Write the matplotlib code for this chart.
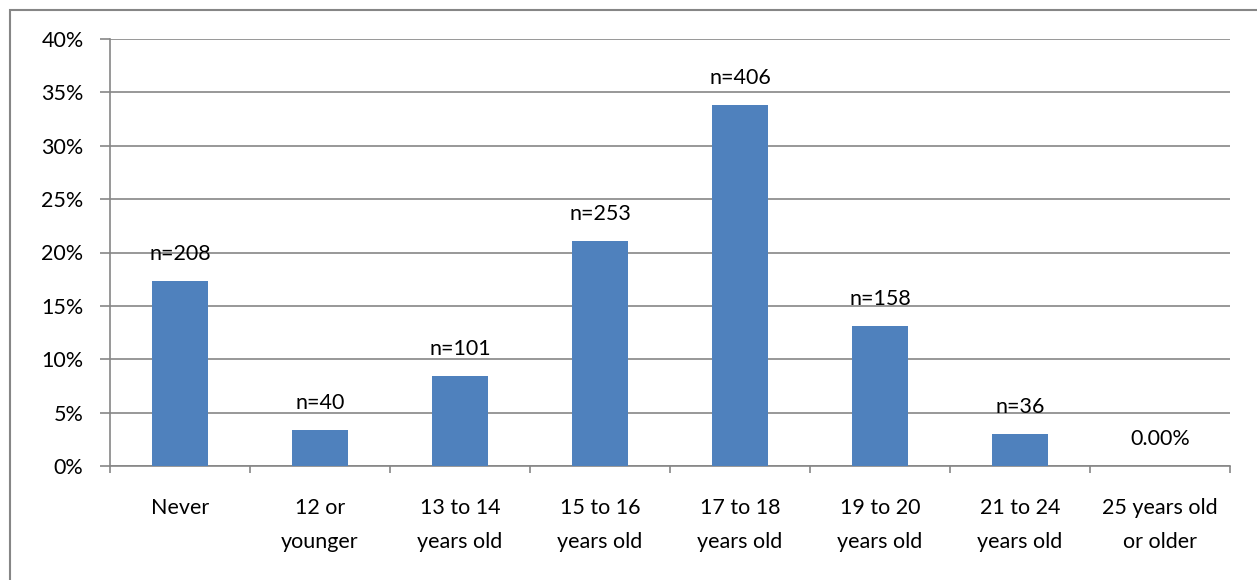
import numpy as np
import matplotlib
matplotlib.use('Agg')
import matplotlib.pyplot as plt
from matplotlib.patches import Rectangle
from matplotlib.ticker import FuncFormatter, MultipleLocator

# Age at first occurrence, share of respondents (%) and counts
CATEGORIES = ['Never', '12 or\nyounger', '13 to 14\nyears old', '15 to 16\nyears old',
              '17 to 18\nyears old', '19 to 20\nyears old', '21 to 24\nyears old',
              '25 years old\nor older']
PERCENTS = [17.3, 3.33, 8.4, 21.05, 33.78, 13.14, 3.0, 0.0]
LABELS = ['n=208', 'n=40', 'n=101', 'n=253', 'n=406', 'n=158', 'n=36', '0.00%']

BAR_COLOR = '#4F81BD'
LINE_COLOR = '#868686'

plt.rcParams['font.family'] = ['Lato', 'DejaVu Sans']
FONT_SIZE = 15.5

fig = plt.figure(figsize=(12.57, 5.80), dpi=100)
ax = fig.add_axes([110 / 1257, 114 / 580, 1120 / 1257, 427 / 580])

# chart border, runs off the right and bottom edges
fig.patches.append(Rectangle((10 / 1257, -0.2), 1.2, 0.2 + 570 / 580,
                             transform=fig.transFigure, fill=False,
                             edgecolor=LINE_COLOR, linewidth=1.5))

x = np.arange(len(CATEGORIES))
bars = ax.bar(x, PERCENTS, width=0.4, color=BAR_COLOR, zorder=3)

for bar, lab in zip(bars, LABELS):
    ax.annotate(lab, (bar.get_x() + bar.get_width() / 2, bar.get_height()),
                xytext=(0, 19.5), textcoords='offset points',
                ha='center', va='center', fontsize=FONT_SIZE, color='black')

ax.set_xlim(-0.5, len(CATEGORIES) - 0.5)
ax.set_ylim(0, 40)
ax.yaxis.set_major_locator(MultipleLocator(5))
ax.yaxis.set_major_formatter(FuncFormatter(lambda v, _: f'{v:.0f}%'))
ax.yaxis.grid(True, color=LINE_COLOR, linewidth=1.2, zorder=0)
ax.set_axisbelow(True)

ax.set_xticks(x)
ax.set_xticklabels(CATEGORIES, fontsize=FONT_SIZE, linespacing=1.9)
ax.set_xticks(np.arange(-0.5, len(CATEGORIES)), minor=True)
ax.tick_params(axis='x', which='major', length=0, pad=23)
ax.tick_params(axis='x', which='minor', length=5, width=1.2, color=LINE_COLOR, direction='out')
ax.tick_params(axis='y', length=7, width=1.2, color=LINE_COLOR, direction='out',
               labelsize=FONT_SIZE, pad=12)

for side in ('top', 'right'):
    ax.spines[side].set_visible(False)
for side in ('left', 'bottom'):
    ax.spines[side].set_color(LINE_COLOR)
    ax.spines[side].set_linewidth(1.2)

fig.savefig('out.png', dpi=100)
